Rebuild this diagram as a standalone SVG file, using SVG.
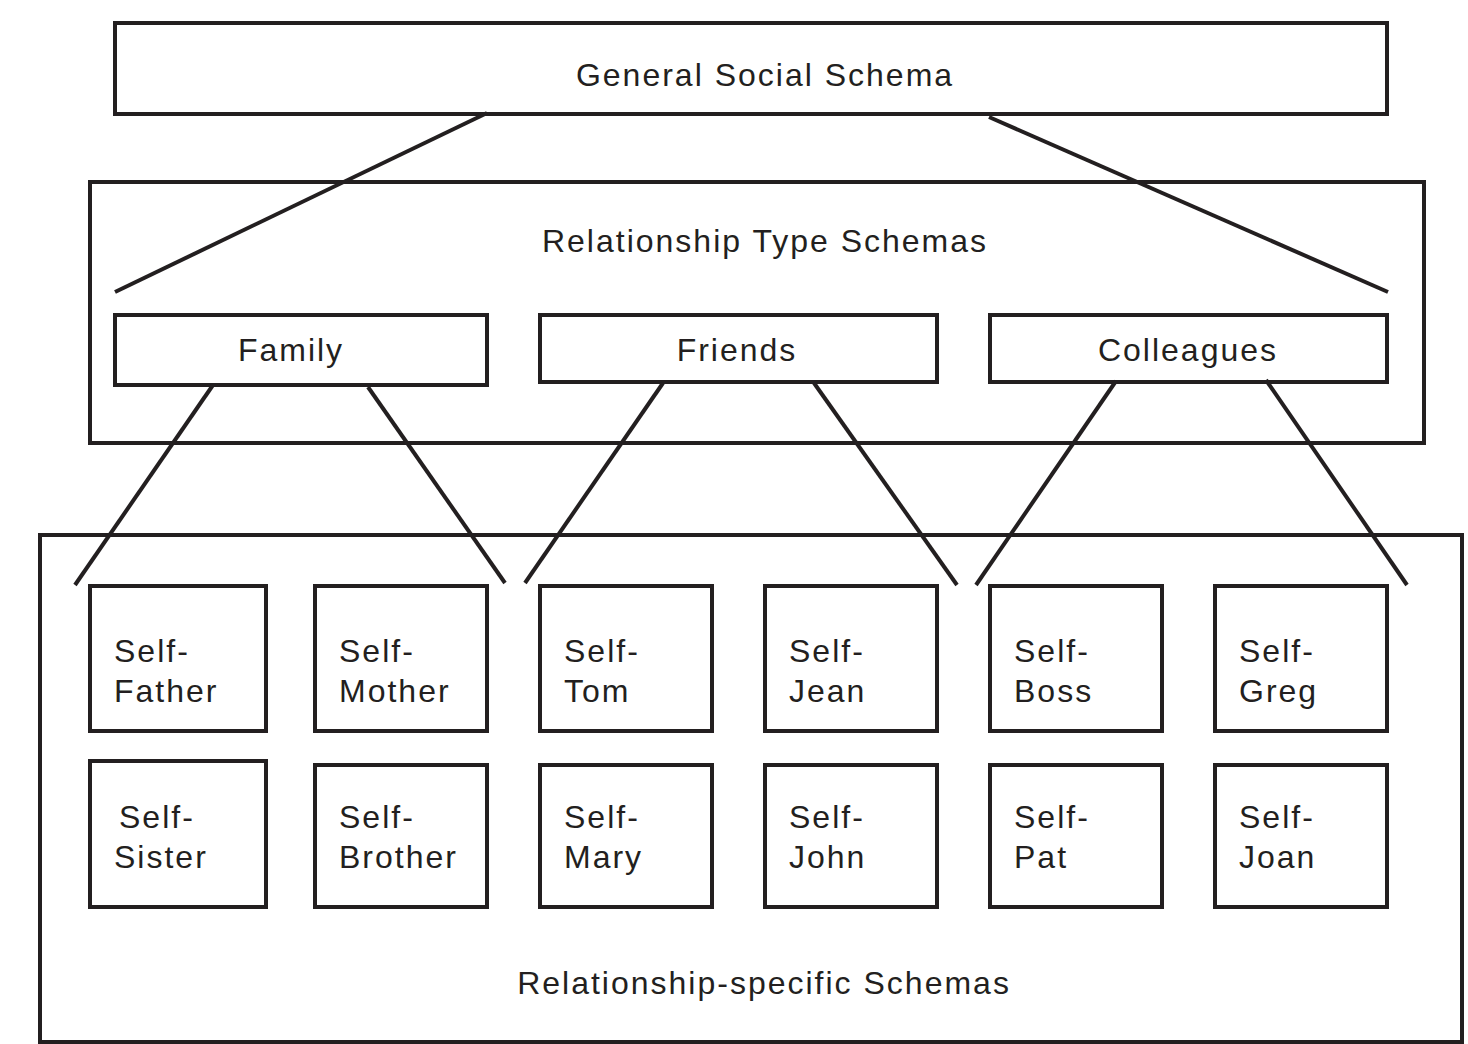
<svg xmlns="http://www.w3.org/2000/svg" width="1468" height="1044" viewBox="0 0 1468 1044">
<style>
rect{fill:none;stroke:#231f20;stroke-width:4}
line{stroke:#231f20;stroke-width:4}
text{font-family:"Liberation Sans",Arial,sans-serif;font-size:32px;letter-spacing:2px;fill:#231f20}
.c{text-anchor:middle}
</style>
<rect width="1468" height="1044" fill="#fff" style="fill:#fff;stroke:none"/>
<g id="general"><rect x="115" y="23" width="1272" height="91"/><text class="c" x="765" y="86">General Social Schema</text></g>
<g id="reltype"><rect x="90" y="182" width="1334" height="261"/><text class="c" x="765" y="252">Relationship Type Schemas</text></g>
<g id="family"><rect x="115" y="315" width="372" height="70"/><text class="c" x="291" y="361">Family</text></g>
<g id="friends"><rect x="540" y="315" width="397" height="67"/><text class="c" x="737" y="361">Friends</text></g>
<g id="colleagues"><rect x="990" y="315" width="397" height="67"/><text class="c" x="1188" y="361">Colleagues</text></g>
<g id="specific"><rect x="40" y="535" width="1422" height="507"/><text class="c" x="764" y="994">Relationship-specific Schemas</text></g>
<g id="father"><rect x="90" y="586" width="176" height="145"/><text x="114" y="662">Self-</text><text x="114" y="702">Father</text></g>
<g id="mother"><rect x="315" y="586" width="172" height="145"/><text x="339" y="662">Self-</text><text x="339" y="702">Mother</text></g>
<g id="tom"><rect x="540" y="586" width="172" height="145"/><text x="564" y="662">Self-</text><text x="564" y="702">Tom</text></g>
<g id="jean"><rect x="765" y="586" width="172" height="145"/><text x="789" y="662">Self-</text><text x="789" y="702">Jean</text></g>
<g id="boss"><rect x="990" y="586" width="172" height="145"/><text x="1014" y="662">Self-</text><text x="1014" y="702">Boss</text></g>
<g id="greg"><rect x="1215" y="586" width="172" height="145"/><text x="1239" y="662">Self-</text><text x="1239" y="702">Greg</text></g>
<g id="sister"><rect x="90" y="761" width="176" height="146"/><text x="119" y="828">Self-</text><text x="114" y="868">Sister</text></g>
<g id="brother"><rect x="315" y="765" width="172" height="142"/><text x="339" y="828">Self-</text><text x="339" y="868">Brother</text></g>
<g id="mary"><rect x="540" y="765" width="172" height="142"/><text x="564" y="828">Self-</text><text x="564" y="868">Mary</text></g>
<g id="john"><rect x="765" y="765" width="172" height="142"/><text x="789" y="828">Self-</text><text x="789" y="868">John</text></g>
<g id="pat"><rect x="990" y="765" width="172" height="142"/><text x="1014" y="828">Self-</text><text x="1014" y="868">Pat</text></g>
<g id="joan"><rect x="1215" y="765" width="172" height="142"/><text x="1239" y="828">Self-</text><text x="1239" y="868">Joan</text></g>
<g id="connectors">
<line x1="487" y1="113" x2="115" y2="292"/>
<line x1="989" y1="117" x2="1388" y2="292"/>
<line x1="213" y1="385" x2="75" y2="585"/>
<line x1="368" y1="387" x2="505" y2="583"/>
<line x1="663" y1="383" x2="525" y2="583"/>
<line x1="814" y1="383" x2="957" y2="585"/>
<line x1="1116" y1="381" x2="976" y2="585"/>
<line x1="1266" y1="380" x2="1407" y2="585"/>
</g>
</svg>
